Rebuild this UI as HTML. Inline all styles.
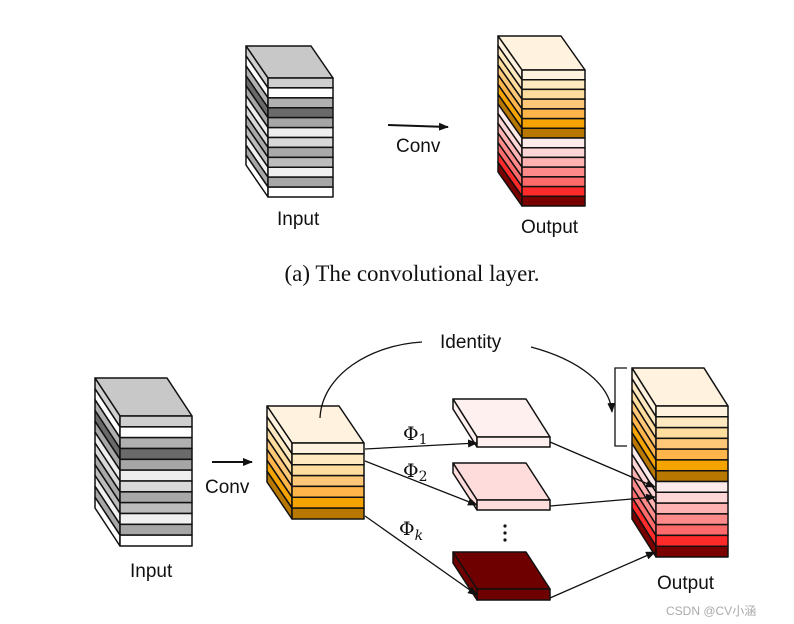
<!DOCTYPE html>
<html><head><meta charset="utf-8"><style>
html,body{margin:0;padding:0;background:#fff;width:794px;height:624px;overflow:hidden}
svg{display:block}
.t{font-family:"Liberation Sans","DejaVu Sans",sans-serif;font-size:19px;fill:#111}
</style></head><body>
<svg id="s" width="794" height="624" viewBox="0 0 794 624" xmlns="http://www.w3.org/2000/svg">
<defs><marker id="a" markerWidth="10" markerHeight="8" refX="9" refY="4" orient="auto" markerUnits="userSpaceOnUse"><path d="M0,0 L10,4 L0,8 Z" fill="#111"/></marker></defs>
<g id="g"></g>
<line x1="388" y1="125" x2="448" y2="127" stroke="#111" stroke-width="2" marker-end="url(#a)"/>
<text class="t" x="396" y="152">Conv</text>
<text class="t" x="277" y="225">Input</text>
<text class="t" x="521" y="233">Output</text>
<text x="412" y="281" text-anchor="middle" style="font-family:'Liberation Serif',serif;font-size:23px" fill="#111">(a)  The convolutional layer.</text>
<line x1="212" y1="462" x2="252" y2="462" stroke="#111" stroke-width="2" marker-end="url(#a)"/>
<text class="t" x="205" y="493">Conv</text>
<text class="t" x="130" y="577">Input</text>
<text class="t" x="657" y="589">Output</text>
<text class="t" x="440" y="348">Identity</text>
<path d="M320,418 C322,375 370,345 422,342" fill="none" stroke="#111" stroke-width="1.3"/>
<path d="M531,347 C580,360 610,385 612,412" fill="none" stroke="#111" stroke-width="1.3" marker-end="url(#a)"/>
<path d="M627,368 L615,368 L615,446 L627,446" fill="none" stroke="#111" stroke-width="1.3"/>
<g stroke="#111" stroke-width="1.3" fill="none">
<line x1="365" y1="449" x2="477" y2="443" marker-end="url(#a)"/>
<line x1="365" y1="461" x2="477" y2="505" marker-end="url(#a)"/>
<line x1="365" y1="516" x2="477" y2="595" marker-end="url(#a)"/>
<line x1="550" y1="442" x2="655" y2="487" marker-end="url(#a)"/>
<line x1="550" y1="506" x2="655" y2="497" marker-end="url(#a)"/>
<line x1="550" y1="598" x2="655" y2="552" marker-end="url(#a)"/>
</g>
<g style="font-family:'DejaVu Serif',serif" fill="#111">
<text x="403" y="440" font-size="19">Φ<tspan font-size="14" dy="4">1</tspan></text>
<text x="403" y="477" font-size="19">Φ<tspan font-size="14" dy="4">2</tspan></text>
<text x="399" y="535" font-size="19">Φ<tspan font-size="14" dy="5" font-style="italic">k</tspan></text>
</g>
<circle cx="505" cy="526" r="1.6" fill="#111"/><circle cx="505" cy="533" r="1.6" fill="#111"/><circle cx="505" cy="540" r="1.6" fill="#111"/>
<text x="666" y="615" style="font-family:'Liberation Sans','Noto Sans CJK SC',sans-serif;font-size:12px" fill="#aaa">CSDN @CV小涵</text>
</svg>
<script>
var g=document.getElementById('g'),NS='http://www.w3.org/2000/svg';
function poly(pts,fill){var p=document.createElementNS(NS,'polygon');p.setAttribute('points',pts.map(function(q){return q.join(',')}).join(' '));p.setAttribute('fill',fill);p.setAttribute('stroke','#111');p.setAttribute('stroke-width','1.5');p.setAttribute('stroke-linejoin','round');g.appendChild(p);}
function stack(fx,fr,ft,fb,dx,dy,top,cols){
 var n=cols.length,h=(fb-ft)/n,bx=fx-dx,by=ft-dy;
 poly([[bx,by],[fr-dx,by],[fr,ft],[fx,ft]],top);
 for(var i=0;i<n;i++){var y0=ft+i*h,y1=y0+h;
  poly([[bx,y0-dy],[fx,y0],[fx,y1],[bx,y1-dy]],cols[i]);
  poly([[fx,y0],[fr,y0],[fr,y1],[fx,y1]],cols[i]);}
}
var gray=['#cfcfcf','#ffffff','#b0b0b0','#6a6a6a','#a6a6a6','#eeeeee','#d8d8d8','#a8a8a8','#bcbcbc','#f0f0f0','#a6a6a6','#ffffff'];
var org=['#fff3df','#ffe9c0','#ffdd9e','#ffc878','#ffb54a','#f5a300','#b87800'];
var out=org.concat(['#fdeaea','#ffd6d6','#ffb2b2','#ff8a8a','#ff6b6b','#ff2a2a','#7a0000']);
stack(268,333,78,197,22,32,'#c8c8c8',gray);
stack(522,585,70,206,24,34,'#fff3df',out);
stack(120,192,416,546,25,38,'#c8c8c8',gray);
stack(292,364,443,519,25,37,'#fff3df',org);
stack(656,728,406,557,24,38,'#fff3df',out);
stack(477,550,437,447,24,38,'#fff0f0',['#fff0f0']);
stack(477,550,500,510,24,37,'#ffdcdc',['#ffdcdc']);
stack(477,550,589,600,24,37,'#6e0000',['#6e0000']);
</script>
</body></html>
